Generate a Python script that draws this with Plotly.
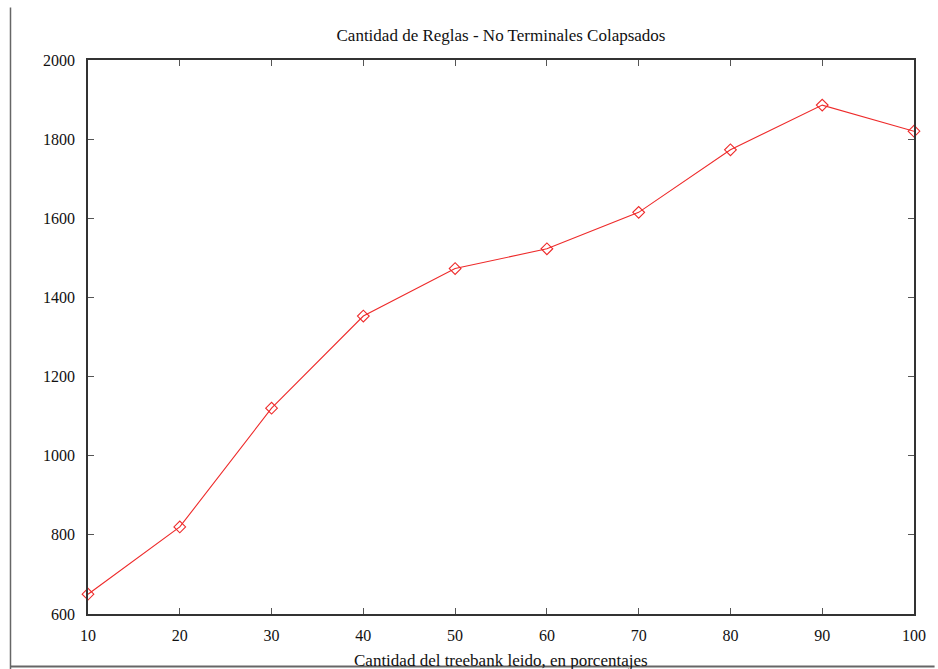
import plotly.graph_objects as go

porcentajes = [10, 20, 30, 40, 50, 60, 70, 80, 90, 100]
reglas = [650, 820, 1120, 1353, 1473, 1523, 1615, 1773, 1886, 1820]
y_ticks = [600, 800, 1000, 1200, 1400, 1600, 1800, 2000]
x_ticks = [10, 20, 30, 40, 50, 60, 70, 80, 90, 100]

FONT = "Liberation Serif"

W, H = 938, 669
L, R, T, B = 88, 18.7, 59.7, 54.5
PW = W - L - R
PH = H - T - B

fig = go.Figure()
fig.add_trace(go.Scatter(
    x=porcentajes, y=reglas, mode="lines+markers",
    line=dict(color="#ee2a2a", width=1.1),
    marker=dict(symbol="diamond-open", size=9, color="#ee2a2a", line=dict(width=1.1)),
    showlegend=False, cliponaxis=False,
))

axis_common = dict(
    showline=True, linecolor="#333333", linewidth=1.5, mirror="ticks",
    ticks="inside", ticklen=6, tickwidth=1, tickcolor="#555555",
    showgrid=False, zeroline=False,
    tickfont=dict(family=FONT, size=16, color="#111111"),
)

fig.update_xaxes(range=[10, 100], tickvals=x_ticks, ticklabelstandoff=6,
                 ticklabeloverflow="allow", **axis_common)
fig.update_yaxes(range=[600, 2000], tickvals=y_ticks, ticklabelstandoff=8, **axis_common)

fig.update_layout(
    width=W, height=H, autosize=False,
    margin=dict(l=L, r=R, t=T, b=B),
    paper_bgcolor="white", plot_bgcolor="white",
    title=dict(text="Cantidad de Reglas - No Terminales Colapsados",
               x=0.5, xref="paper", xanchor="center",
               y=1 - 35 / H, yanchor="middle",
               font=dict(family=FONT, size=17, color="#111111")),
)

fig.add_annotation(
    text="Cantidad del treebank leido, en porcentajes",
    xref="paper", yref="paper", x=0.5, y=0, xanchor="center", yanchor="top",
    yshift=-35, showarrow=False,
    font=dict(family=FONT, size=17, color="#111111"),
)

# screenshot frame lines (left and bottom)
fx = (10 - L) / PW
fig.add_shape(type="line", xref="paper", yref="paper",
              x0=fx, x1=fx,
              y0=(H - B - 7) / PH, y1=-(H + 2 - (H - B)) / PH,
              line=dict(color="#666666", width=1.5))
fy = -(667 - (H - B)) / PH
fig.add_shape(type="line", xref="paper", yref="paper",
              x0=fx, x1=(W + 2 - L) / PW,
              y0=fy, y1=fy,
              line=dict(color="#666666", width=2))

# remove the default 8px page margin and scrollbars so the figure fills the window exactly
fig.write_html(
    "out.html",
    config={"displayModeBar": False},
    post_script=(
        "document.body.style.margin='0';"
        "document.body.style.overflow='hidden';"
        "document.documentElement.style.overflow='hidden';"
    ),
)
